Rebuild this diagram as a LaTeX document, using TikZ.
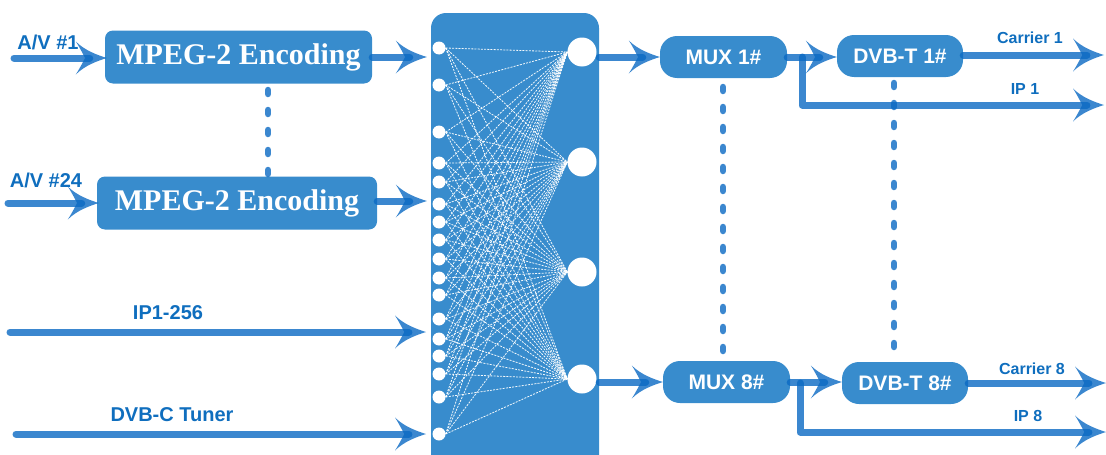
\documentclass[tikz,border=0pt]{standalone}
\usepackage{fontspec}
\setmainfont{Liberation Sans}
\newfontfamily\encfont{Liberation Serif}
\usetikzlibrary{arrows.meta}
\definecolor{boxblue}{RGB}{56,140,205}
\definecolor{arrblue}{RGB}{10,105,195}
\definecolor{txtblue}{RGB}{15,110,190}
\pgfdeclarearrow{
  name=Swoosh,
  parameters={\the\pgfarrowlength,\the\pgfarrowwidth},
  setup code={
    \pgfarrowssettipend{0pt}
    \pgfarrowssetlineend{-.55\pgfarrowlength}
    \pgfarrowssetbackend{-\pgfarrowlength}
    \pgfarrowssetvisualbackend{-.7\pgfarrowlength}
    \pgfarrowshullpoint{0pt}{0pt}
    \pgfarrowshullpoint{-\pgfarrowlength}{.5\pgfarrowwidth}
    \pgfarrowshullpoint{-\pgfarrowlength}{-.5\pgfarrowwidth}
    \pgfarrowssavethe\pgfarrowlength
    \pgfarrowssavethe\pgfarrowwidth
  },
  drawing code={
    \pgfpathmoveto{\pgfqpoint{0pt}{0pt}}
    \pgfpathcurveto{\pgfpoint{-.3\pgfarrowlength}{.09\pgfarrowwidth}}{\pgfpoint{-.7\pgfarrowlength}{.22\pgfarrowwidth}}{\pgfpoint{-\pgfarrowlength}{.5\pgfarrowwidth}}
    \pgfpathcurveto{\pgfpoint{-.85\pgfarrowlength}{.28\pgfarrowwidth}}{\pgfpoint{-.76\pgfarrowlength}{.1\pgfarrowwidth}}{\pgfpoint{-.7\pgfarrowlength}{0pt}}
    \pgfpathcurveto{\pgfpoint{-.76\pgfarrowlength}{-.1\pgfarrowwidth}}{\pgfpoint{-.85\pgfarrowlength}{-.28\pgfarrowwidth}}{\pgfpoint{-\pgfarrowlength}{-.5\pgfarrowwidth}}
    \pgfpathcurveto{\pgfpoint{-.7\pgfarrowlength}{-.22\pgfarrowwidth}}{\pgfpoint{-.3\pgfarrowlength}{-.09\pgfarrowwidth}}{\pgfqpoint{0pt}{0pt}}
    \pgfpathclose
    \pgfusepathqfill
  },
  defaults={length=31pt, width=33pt}
}
\tikzset{
  encbox/.style={fill=boxblue, rounded corners=8pt, text=white, inner sep=0pt,
    font=\encfont\bfseries\fontsize{30}{36}\selectfont},
  pill/.style={fill=boxblue, rounded corners=17pt, text=white, inner sep=0pt,
    minimum width=127pt, minimum height=42pt,
    font=\bfseries\fontsize{21}{25}\selectfont},
  flow/.style={draw=arrblue, opacity=0.8, line width=7pt, line cap=round, line join=round,
    -{Swoosh[length=31pt,width=33pt]}},
  dotline/.style={draw=arrblue, opacity=0.8, line width=6.5pt, line cap=round,
    dash pattern=on 4pt off 16pt},
  lbl/.style={text=txtblue, inner sep=0pt, font=\bfseries\fontsize{20}{24}\selectfont},
  slbl/.style={text=txtblue, inner sep=0pt, font=\bfseries\fontsize{16}{19}\selectfont},
  wire/.style={draw=white, line width=0.8pt, dash pattern=on 2pt off 1.2pt, opacity=0.95},
  port/.style={circle, fill=white, minimum size=13pt, inner sep=0pt},
  bigport/.style={circle, fill=white, minimum size=29pt, inner sep=0pt},
}
\begin{document}
\begin{tikzpicture}[x=1pt,y=-1pt]
\useasboundingbox (0,0) rectangle (1106,455);
\clip (0,0) rectangle (1106,455);

% encoders
\node[encbox, minimum width=267pt, minimum height=53pt] (enc1) at (238.5,57) {MPEG-2 Encoding};
\node[encbox, minimum width=280pt, minimum height=53pt] (enc2) at (237,203) {MPEG-2 Encoding};

% matrix
\node[fill=boxblue, rounded corners=15pt, minimum width=168pt, minimum height=457pt, inner sep=0pt] (mat) at (515,241.5) {};
\foreach \y [count=\i] in {48,85,132,163,182,204,222,240,259,278,295,319,339,356,374,397,434}
  \node[port] (s\i) at (439,\y) {};
\foreach \y [count=\j] in {52,162,272,379}
  \node[bigport] (b\j) at (582,\y) {};
\foreach \i in {1,...,17}
  \foreach \j in {1,...,4}
    \draw[wire] (s\i.east) -- (b\j.west);

% right side boxes
\node[pill] (mux1) at (723.5,57) {MUX 1\#};
\node[pill, minimum width=126pt] (dvbt1) at (900,56) {DVB-T 1\#};
\node[pill] (mux8) at (726.5,382) {MUX 8\#};
\node[pill, minimum width=126pt] (dvbt8) at (905,383) {DVB-T 8\#};

% labels
\node[lbl] (lav1) at (48,42) {A/V \#1};
\node[lbl] (lav24) at (46,180) {A/V \#24};
\node[lbl] (lip) at (168,313) {IP1-256};
\node[lbl] (ldvbc) at (172,415) {DVB-C Tuner};
\node[slbl] (lcar1) at (1030,38) {Carrier 1};
\node[slbl] (lip1) at (1025,89) {IP 1};
\node[slbl] (lcar8) at (1032,369) {Carrier 8};
\node[slbl] (lip8) at (1028,416) {IP 8};

% free ends
\coordinate (av1in) at (14,58);
\coordinate (av24in) at (8,203);
\coordinate (ipin) at (10,332);
\coordinate (dvbcin) at (16,434);
\coordinate (ipm) at (426,332);
\coordinate (dvbcm) at (426,434);
\coordinate (br1) at (802,57);
\coordinate (br8) at (800,383);
\coordinate (car1) at (1104,55);
\coordinate (ip1) at (1104,105);
\coordinate (car8) at (1106,383);
\coordinate (ip8) at (1106,432);

% input arrows
\draw[flow, shorten >=-2pt] (av1in) -- (enc1.west |- av1in);
\draw[flow, shorten >=-2pt] (av24in) -- (enc2.west |- av24in);
\draw[flow] (enc1.east) -- ([xshift=-4pt]mat.west |- enc1.east);
\draw[flow] ([yshift=2pt]enc2.east) -- ([xshift=-4pt,yshift=2pt]mat.west |- enc2.east);
\draw[flow] (ipin) -- (ipm);
\draw[flow] (dvbcin) -- (dvbcm);

% output arrows
\draw[flow] (mat.east |- mux1.west) -- (mux1.west);
\draw[flow] (mat.east |- mux8.west) -- (mux8.west);
\draw[flow] (mux1.east) -- (dvbt1.west |- mux1.east);
\draw[flow] (mux8.east) -- (dvbt8.west |- mux8.east);
\draw[flow] (dvbt1.east |- car1) -- (car1);
\draw[flow] (dvbt8.east) -- (car8);
\draw[flow] (br1) |- (ip1);
\draw[flow] (br8) |- (ip8);

% dotted links
\coordinate (d1a) at (268,90);
\coordinate (d1b) at (268,174);
\draw[dotline] (d1a) -- (d1b);
\coordinate (d2a) at (723,87);
\coordinate (d2b) at (723,351);
\draw[dotline] (d2a) -- (d2b);
\coordinate (d3a) at (894,83);
\coordinate (d3b) at (894,347);
\draw[dotline] (d3a) -- (d3b);
\end{tikzpicture}
\end{document}
